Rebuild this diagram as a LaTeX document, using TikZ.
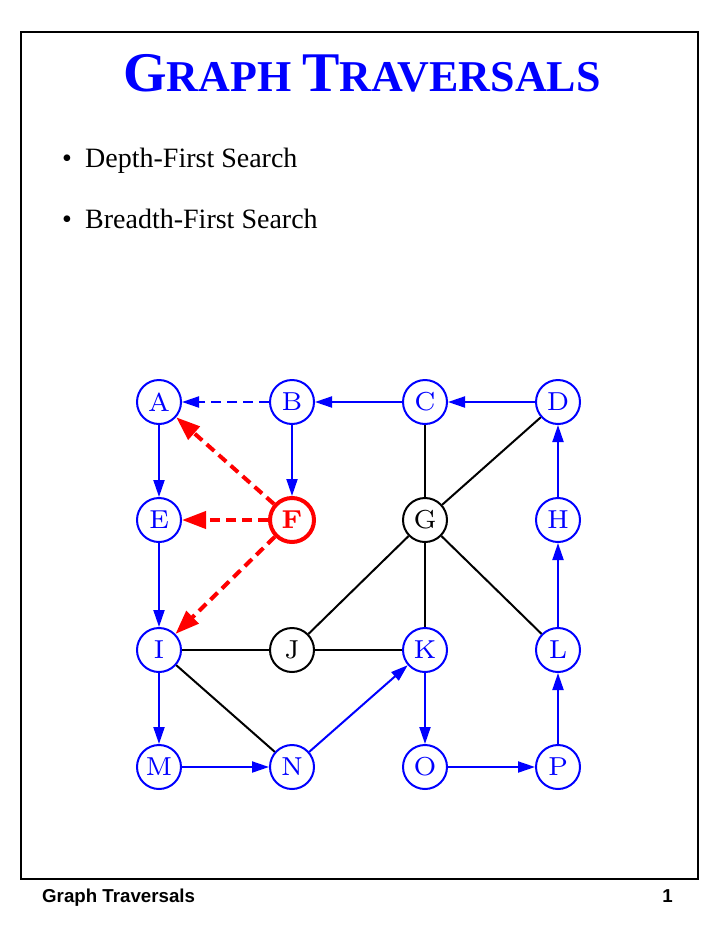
\documentclass[tikz,border=0pt]{standalone}
\usepackage{fontspec}
\usepackage{tikz}
\usetikzlibrary{arrows.meta,positioning}
\newfontfamily\timesfont{Liberation Serif}
\newfontfamily\helvfont{Liberation Sans}
\newfontfamily\vtxfont{lmroman7-regular}[Extension=.otf, BoldFont=lmroman7-bold]
\definecolor{treeblue}{RGB}{0, 0, 255}
\definecolor{backred}{RGB}{255, 0, 0}

\begin{document}
\begin{tikzpicture}[
    x=1pt, y=-1pt,
    node distance=133pt, on grid,
    vtx/.style={circle, draw=treeblue, text=treeblue, line width=2pt, minimum size=44pt, inner sep=0pt, font=\vtxfont\fontsize{26}{26}\selectfont},
    gvtx/.style={vtx, draw=black, text=black},
    hotvtx/.style={vtx, draw=backred, text=backred, line width=4pt, font=\vtxfont\fontsize{26}{26}\selectfont\bfseries},
    tree_arrow/.style={-{Triangle[length=17pt, width=11pt]}, line width=2pt, treeblue},
    back_arrow/.style={tree_arrow, dash pattern=on 10pt off 6pt},
    red_arrow/.style={-{Triangle[length=24pt, width=17pt]}, line width=4pt, backred, dash pattern=on 10pt off 6pt},
    edge_line/.style={line width=2pt, black}
]
    \useasboundingbox (0,0) rectangle (720,932);
    \draw[line width=1.2pt] (21,32) rectangle (698,879);

    % Title and bullets
    \node[anchor=base, text=treeblue, font=\timesfont\bfseries] (title) at (362,91)
        {\fontsize{56}{60}\selectfont G\fontsize{44}{48}\selectfont RAPH \fontsize{56}{60}\selectfont T\fontsize{44}{48}\selectfont RAVERSALS};
    \node[anchor=base west, inner sep=0pt, font=\timesfont\fontsize{28}{32}\selectfont] (dot1) at (62,167) {\textbullet};
    \node[anchor=base west, inner sep=0pt, font=\timesfont\fontsize{28}{32}\selectfont] (dfs) at (85,167) {Depth-First Search};
    \node[anchor=base west, inner sep=0pt, font=\timesfont\fontsize{28}{32}\selectfont] (dot2) at (62,228) {\textbullet};
    \node[anchor=base west, inner sep=0pt, font=\timesfont\fontsize{28}{32}\selectfont] (bfs) at (85,228) {Breadth-First Search};

    % Vertices
    \node[vtx] (A) at (159,402) {A};
    \node[vtx, right=of A] (B) {B};
    \node[vtx, right=of B] (C) {C};
    \node[vtx, right=of C] (D) {D};
    \node[vtx, below=118pt of A] (E) {E};
    \node[hotvtx, right=of E] (F) {F};
    \node[gvtx, right=of F] (G) {G};
    \node[vtx, right=of G] (H) {H};
    \node[vtx, below=130pt of E] (I) {I};
    \node[gvtx, right=of I] (J) {J};
    \node[vtx, right=of J] (K) {K};
    \node[vtx, right=of K] (L) {L};
    \node[vtx, below=117pt of I] (M) {M};
    \node[vtx, right=of M] (N) {N};
    \node[vtx, right=of N] (O) {O};
    \node[vtx, right=of O] (P) {P};

    % Undirected edges
    \draw[edge_line] (C) -- (G);
    \draw[edge_line] (D) -- (G);
    \draw[edge_line] (G) -- (J);
    \draw[edge_line] (G) -- (K);
    \draw[edge_line] (G) -- (L);
    \draw[edge_line] (I) -- (J);
    \draw[edge_line] (J) -- (K);
    \draw[edge_line] (I) -- (N);

    % Traversal arrows
    \draw[back_arrow] (B) -- (A);
    \draw[tree_arrow] (C) -- (B);
    \draw[tree_arrow] (D) -- (C);
    \draw[tree_arrow] (A) -- (E);
    \draw[tree_arrow] (B) -- (F);
    \draw[tree_arrow] (E) -- (I);
    \draw[tree_arrow] (I) -- (M);
    \draw[tree_arrow] (M) -- (N);
    \draw[tree_arrow] (N) -- (K);
    \draw[tree_arrow] (K) -- (O);
    \draw[tree_arrow] (O) -- (P);
    \draw[tree_arrow] (P) -- (L);
    \draw[tree_arrow] (L) -- (H);
    \draw[tree_arrow] (H) -- (D);

    % Back edges from F
    \draw[red_arrow] (F) -- (A);
    \draw[red_arrow] (F) -- (E);
    \draw[red_arrow] (F) -- (I);

    % Footer
    \node[anchor=base west, inner sep=0pt, font=\helvfont\bfseries\fontsize{18.7}{20}\selectfont] (foot) at (42,902) {Graph Traversals};
    \node[anchor=base east, inner sep=0pt, font=\helvfont\bfseries\fontsize{18.7}{20}\selectfont] (page) at (673,902) {1};
\end{tikzpicture}
\end{document}
